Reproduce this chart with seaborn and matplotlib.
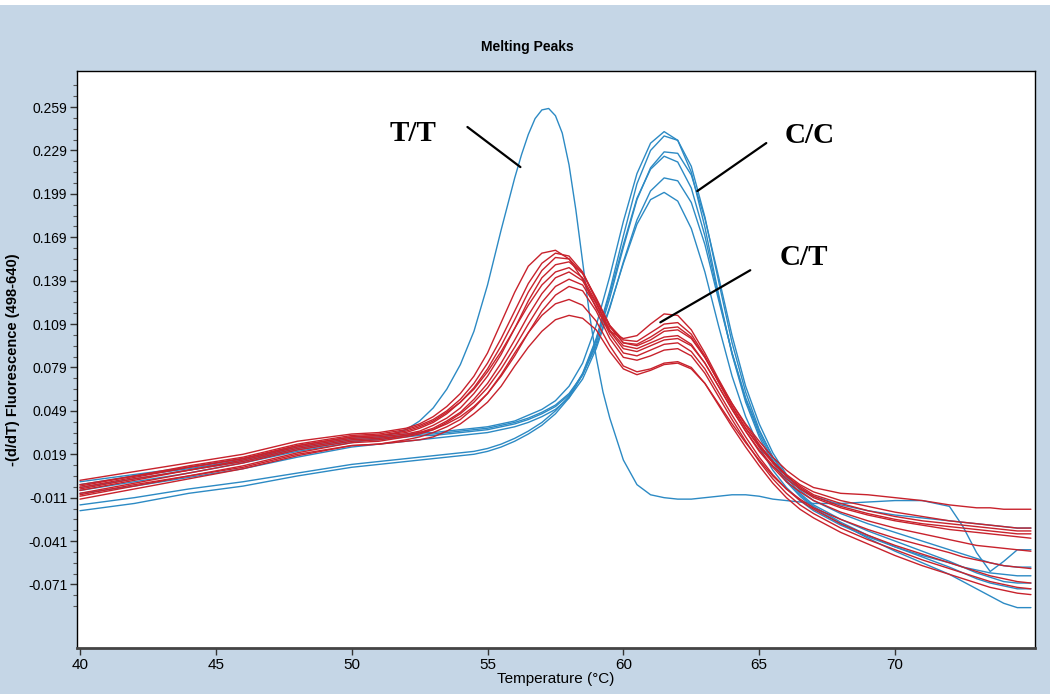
import pandas as pd
import matplotlib
matplotlib.use("Agg")
import matplotlib.pyplot as plt
import matplotlib.ticker as mticker
from matplotlib.patches import Rectangle
import seaborn as sns

# ── DATA ──────────────────────────────────────────────────────────────────────
temperature = [40, 42, 44, 46, 48, 50, 51, 52,
               52.5, 53, 53.5, 54, 54.5, 55, 55.5, 56, 56.5, 57,
               57.5, 58, 58.5, 59, 59.5, 60, 60.5, 61, 61.5, 62,
               62.5, 63, 63.5, 64, 64.5, 65, 65.5, 66, 66.5,
               67, 68, 69, 70, 71, 72, 72.5, 73, 73.5, 74, 74.5, 75]

# T/T homozygote (one sample, sharper peak -> finer temperature steps)
tt_temperature = [40, 42, 44, 46, 48, 50, 51, 52,
                  52.5, 53, 53.5, 54, 54.5, 55, 55.5, 55.75, 56, 56.25, 56.5, 56.75,
                  57, 57.25, 57.5, 57.75, 58, 58.25, 58.5, 58.75, 59, 59.25, 59.5,
                  60, 60.5, 61, 61.5, 62, 62.5, 63, 63.5, 64, 64.5, 65, 65.5, 66, 66.5,
                  67, 68, 69, 70, 71, 72, 72.5, 73, 73.5, 74, 74.5, 75]
tt_1 = [-0.006, 0.000, 0.006, 0.013, 0.021, 0.027, 0.030, 0.036,
        0.042, 0.051, 0.064, 0.081, 0.104, 0.136, 0.174, 0.192, 0.210, 0.226, 0.240, 0.251,
        0.257, 0.258, 0.253, 0.241, 0.219, 0.188, 0.152, 0.116, 0.086, 0.062, 0.044,
        0.015, -0.002, -0.009, -0.011, -0.012, -0.012, -0.011, -0.010, -0.009, -0.009, -0.010, -0.012, -0.013, -0.014,
        -0.015, -0.015, -0.014, -0.013, -0.013, -0.017, -0.031, -0.049, -0.062, -0.055, -0.047, -0.047]

# C/C homozygotes
cc_1 = [0.000, 0.005, 0.010, 0.016, 0.024, 0.030, 0.031, 0.033,
        0.034, 0.034, 0.035, 0.036, 0.037, 0.038, 0.040, 0.042, 0.046, 0.050,
        0.056, 0.066, 0.082, 0.108, 0.142, 0.180, 0.213, 0.234, 0.242, 0.236,
        0.214, 0.176, 0.130, 0.088, 0.055, 0.031, 0.013, 0.000, -0.010,
        -0.018, -0.029, -0.039, -0.048, -0.056, -0.064, -0.069, -0.074, -0.079, -0.084, -0.087, -0.087]
cc_2 = [-0.016, -0.011, -0.005, 0.000, 0.006, 0.012, 0.014, 0.016,
        0.017, 0.018, 0.019, 0.020, 0.021, 0.023, 0.026, 0.030, 0.035, 0.041,
        0.049, 0.059, 0.075, 0.099, 0.132, 0.170, 0.206, 0.229, 0.239, 0.236,
        0.218, 0.183, 0.139, 0.096, 0.062, 0.036, 0.017, 0.003, -0.008,
        -0.016, -0.026, -0.034, -0.041, -0.048, -0.055, -0.059, -0.063, -0.066, -0.069, -0.070, -0.070]
cc_3 = [-0.004, 0.002, 0.008, 0.014, 0.022, 0.028, 0.029, 0.031,
        0.032, 0.032, 0.033, 0.034, 0.035, 0.036, 0.038, 0.040, 0.043, 0.047,
        0.052, 0.060, 0.074, 0.096, 0.127, 0.162, 0.195, 0.217, 0.228, 0.227,
        0.212, 0.182, 0.142, 0.101, 0.066, 0.040, 0.020, 0.005, -0.006,
        -0.013, -0.022, -0.029, -0.035, -0.041, -0.047, -0.050, -0.053, -0.056, -0.058, -0.059, -0.059]
cc_4 = [-0.020, -0.015, -0.008, -0.003, 0.004, 0.010, 0.012, 0.014,
        0.015, 0.016, 0.017, 0.018, 0.019, 0.021, 0.024, 0.028, 0.033, 0.039,
        0.047, 0.058, 0.074, 0.098, 0.130, 0.164, 0.196, 0.216, 0.225, 0.221,
        0.203, 0.170, 0.128, 0.089, 0.057, 0.033, 0.015, 0.001, -0.009,
        -0.017, -0.028, -0.037, -0.045, -0.052, -0.059, -0.063, -0.067, -0.070, -0.072, -0.074, -0.074]
cc_5 = [-0.008, -0.003, 0.003, 0.009, 0.017, 0.024, 0.026, 0.028,
        0.029, 0.030, 0.031, 0.032, 0.033, 0.034, 0.036, 0.038, 0.041, 0.045,
        0.050, 0.058, 0.071, 0.092, 0.120, 0.152, 0.181, 0.201, 0.210, 0.208,
        0.193, 0.164, 0.126, 0.089, 0.058, 0.035, 0.017, 0.004, -0.005,
        -0.010, -0.016, -0.020, -0.023, -0.025, -0.027, -0.028, -0.029, -0.030, -0.031, -0.032, -0.032]
cc_6 = [-0.002, 0.004, 0.009, 0.015, 0.023, 0.029, 0.030, 0.032,
        0.033, 0.033, 0.034, 0.035, 0.036, 0.037, 0.039, 0.041, 0.044, 0.048,
        0.053, 0.061, 0.074, 0.094, 0.121, 0.151, 0.178, 0.195, 0.200, 0.194,
        0.175, 0.145, 0.108, 0.073, 0.045, 0.024, 0.008, -0.004, -0.013,
        -0.020, -0.030, -0.038, -0.045, -0.051, -0.056, -0.059, -0.061, -0.063, -0.064, -0.065, -0.065]

# C/T heterozygotes
ct_1 = [0.001, 0.007, 0.013, 0.019, 0.028, 0.033, 0.034, 0.037,
        0.040, 0.045, 0.052, 0.061, 0.073, 0.089, 0.110, 0.131, 0.149, 0.158,
        0.160, 0.154, 0.140, 0.120, 0.104, 0.099, 0.101, 0.109, 0.116, 0.115,
        0.105, 0.089, 0.071, 0.054, 0.040, 0.028, 0.017, 0.008, 0.001,
        -0.004, -0.008, -0.009, -0.011, -0.013, -0.016, -0.017, -0.018, -0.018, -0.019, -0.019, -0.019]
ct_2 = [-0.002, 0.004, 0.011, 0.017, 0.026, 0.032, 0.033, 0.036,
        0.039, 0.043, 0.049, 0.057, 0.068, 0.082, 0.099, 0.118, 0.137, 0.151,
        0.158, 0.156, 0.145, 0.126, 0.108, 0.098, 0.097, 0.103, 0.109, 0.110,
        0.102, 0.087, 0.069, 0.052, 0.037, 0.025, 0.014, 0.005, -0.002,
        -0.007, -0.013, -0.017, -0.021, -0.024, -0.027, -0.028, -0.029, -0.030, -0.031, -0.032, -0.032]
ct_3 = [-0.004, 0.003, 0.010, 0.016, 0.025, 0.031, 0.032, 0.034,
        0.037, 0.041, 0.047, 0.055, 0.065, 0.078, 0.094, 0.112, 0.131, 0.146,
        0.155, 0.154, 0.144, 0.126, 0.107, 0.096, 0.095, 0.100, 0.106, 0.107,
        0.100, 0.086, 0.069, 0.052, 0.037, 0.024, 0.013, 0.004, -0.003,
        -0.009, -0.015, -0.020, -0.024, -0.027, -0.029, -0.030, -0.031, -0.032, -0.033, -0.034, -0.034]
ct_4 = [-0.006, 0.001, 0.008, 0.015, 0.024, 0.030, 0.031, 0.033,
        0.035, 0.039, 0.044, 0.051, 0.061, 0.073, 0.088, 0.106, 0.125, 0.141,
        0.150, 0.152, 0.144, 0.127, 0.108, 0.096, 0.094, 0.098, 0.104, 0.105,
        0.099, 0.086, 0.070, 0.054, 0.039, 0.026, 0.014, 0.004, -0.004,
        -0.010, -0.017, -0.022, -0.026, -0.029, -0.031, -0.032, -0.033, -0.034, -0.035, -0.036, -0.036]
ct_5 = [-0.003, 0.004, 0.010, 0.016, 0.025, 0.031, 0.032, 0.035,
        0.038, 0.042, 0.048, 0.055, 0.064, 0.076, 0.090, 0.106, 0.122, 0.136,
        0.145, 0.148, 0.141, 0.124, 0.105, 0.094, 0.092, 0.096, 0.100, 0.101,
        0.095, 0.082, 0.066, 0.050, 0.035, 0.022, 0.011, 0.002, -0.005,
        -0.011, -0.018, -0.023, -0.027, -0.030, -0.033, -0.034, -0.035, -0.036, -0.037, -0.038, -0.039]
ct_6 = [-0.008, -0.001, 0.006, 0.013, 0.022, 0.028, 0.029, 0.032,
        0.034, 0.037, 0.042, 0.048, 0.057, 0.068, 0.082, 0.098, 0.115, 0.130,
        0.141, 0.145, 0.139, 0.123, 0.104, 0.092, 0.090, 0.094, 0.098, 0.099,
        0.094, 0.082, 0.066, 0.050, 0.035, 0.021, 0.010, 0.000, -0.007,
        -0.013, -0.021, -0.027, -0.032, -0.036, -0.040, -0.042, -0.044, -0.045, -0.046, -0.047, -0.048]
ct_7 = [-0.010, -0.003, 0.004, 0.011, 0.020, 0.027, 0.028, 0.031,
        0.033, 0.036, 0.041, 0.047, 0.055, 0.065, 0.078, 0.093, 0.109, 0.124,
        0.135, 0.140, 0.136, 0.121, 0.102, 0.089, 0.087, 0.091, 0.095, 0.096,
        0.090, 0.078, 0.062, 0.046, 0.031, 0.017, 0.005, -0.005, -0.013,
        -0.019, -0.029, -0.037, -0.044, -0.050, -0.056, -0.059, -0.062, -0.065, -0.067, -0.069, -0.070]
ct_8 = [-0.005, 0.002, 0.008, 0.014, 0.023, 0.029, 0.030, 0.032,
        0.034, 0.036, 0.040, 0.045, 0.052, 0.061, 0.073, 0.087, 0.103, 0.118,
        0.129, 0.135, 0.132, 0.118, 0.099, 0.086, 0.084, 0.087, 0.091, 0.092,
        0.087, 0.075, 0.059, 0.043, 0.028, 0.014, 0.002, -0.008, -0.016,
        -0.022, -0.032, -0.040, -0.047, -0.054, -0.060, -0.063, -0.066, -0.069, -0.071, -0.073, -0.074]
ct_9 = [-0.012, -0.005, 0.002, 0.009, 0.018, 0.025, 0.026, 0.029,
        0.031, 0.034, 0.038, 0.043, 0.051, 0.061, 0.074, 0.089, 0.103, 0.115,
        0.123, 0.126, 0.122, 0.111, 0.094, 0.080, 0.076, 0.078, 0.082, 0.083,
        0.079, 0.068, 0.053, 0.038, 0.024, 0.011, -0.001, -0.011, -0.019,
        -0.025, -0.035, -0.043, -0.051, -0.058, -0.064, -0.067, -0.070, -0.073, -0.075, -0.077, -0.078]
ct_10 = [-0.009, -0.002, 0.004, 0.010, 0.019, 0.025, 0.026, 0.028,
         0.029, 0.031, 0.035, 0.040, 0.047, 0.055, 0.066, 0.080, 0.093, 0.104,
         0.112, 0.115, 0.113, 0.105, 0.090, 0.078, 0.074, 0.077, 0.081, 0.082,
         0.078, 0.068, 0.054, 0.040, 0.027, 0.015, 0.004, -0.005, -0.012,
         -0.018, -0.026, -0.033, -0.039, -0.044, -0.049, -0.052, -0.054, -0.056, -0.058, -0.059, -0.060]

x_ticks = [40, 45, 50, 55, 60, 65, 70]
y_ticks = [0.259, 0.229, 0.199, 0.169, 0.139, 0.109, 0.079, 0.049, 0.019, -0.011, -0.041, -0.071]
y_tick_labels = ["0.259", "0.229", "0.199", "0.169", "0.139", "0.109", "0.079",
                 "0.049", "0.019", "-0.011", "-0.041", "-0.071"]

# genotype label -> (text position, pointer start, pointer end) in data units
callouts = {
    "T/T": ((52.25, 0.241), (54.26, 0.2452), (56.21, 0.2175)),
    "C/C": ((66.85, 0.239), (65.26, 0.2341), (62.72, 0.2009)),
    "C/T": ((66.65, 0.155), (64.67, 0.1462), (61.36, 0.1102)),
}

# ── SETTINGS ──────────────────────────────────────────────────────────────────
BG    = "#c5d6e6"
BLUE  = "#2c8ac4"
RED   = "#c8222c"

sns.set_theme(style="white")
plt.rcParams["font.family"] = ["Liberation Sans Narrow", "Liberation Sans", "DejaVu Sans"]
plt.rcParams["axes.unicode_minus"] = False
for key in ["text.color", "axes.labelcolor", "xtick.color", "ytick.color"]:
    plt.rcParams[key] = "black"

curves = {
    "tt_1": ("T/T", tt_temperature, tt_1),
    "cc_1": ("C/C", temperature, cc_1), "cc_2": ("C/C", temperature, cc_2),
    "cc_3": ("C/C", temperature, cc_3), "cc_4": ("C/C", temperature, cc_4),
    "cc_5": ("C/C", temperature, cc_5), "cc_6": ("C/C", temperature, cc_6),
    "ct_1": ("C/T", temperature, ct_1), "ct_2": ("C/T", temperature, ct_2),
    "ct_3": ("C/T", temperature, ct_3), "ct_4": ("C/T", temperature, ct_4),
    "ct_5": ("C/T", temperature, ct_5), "ct_6": ("C/T", temperature, ct_6),
    "ct_7": ("C/T", temperature, ct_7), "ct_8": ("C/T", temperature, ct_8),
    "ct_9": ("C/T", temperature, ct_9), "ct_10": ("C/T", temperature, ct_10),
}
rows = []
for name, (geno, temps, vals) in curves.items():
    for t, v in zip(temps, vals):
        rows.append({"sample": name, "genotype": geno, "temp": t, "value": v})
df = pd.DataFrame(rows)

# ── FIGURE ────────────────────────────────────────────────────────────────────
fig = plt.figure(figsize=(10.54, 6.94), dpi=100, facecolor=BG)
# thin white frame strips at the top and right edge of the window
fig.patches.append(Rectangle((0, 1 - 5 / 694), 1, 5 / 694, transform=fig.transFigure,
                             facecolor="white", edgecolor="none", zorder=-1))
fig.patches.append(Rectangle((1 - 4 / 1054, 0), 4 / 1054, 1, transform=fig.transFigure,
                             facecolor="white", edgecolor="none", zorder=-1))

ax = fig.add_axes([77 / 1054, 1 - 648 / 694, (1035 - 77) / 1054, (648 - 71) / 694])
ax.set_facecolor("white")

sns.lineplot(data=df, x="temp", y="value", hue="genotype", units="sample",
             estimator=None, sort=False, hue_order=["T/T", "C/C", "C/T"],
             palette={"T/T": BLUE, "C/C": BLUE, "C/T": RED},
             linewidth=1.0, legend=False, ax=ax)

for label, (txt, p0, p1) in callouts.items():
    ax.plot([p0[0], p1[0]], [p0[1], p1[1]], color="black", lw=1.6)
    ax.text(txt[0], txt[1], label, ha="center", va="center", fontsize=21,
            fontweight="bold", color="black", family=["Liberation Serif", "DejaVu Serif"])

ax.set_xlim(39.89, 75.15)
ax.set_ylim(-0.1149, 0.2839)
ax.set_xticks(x_ticks)
ax.set_yticks(y_ticks, labels=y_tick_labels)
ax.yaxis.set_minor_locator(mticker.FixedLocator(
    [0.259 + 0.0075 * k for k in range(-46, 3)]))
ax.tick_params(axis="both", which="major", direction="out", length=5, width=1,
               color="#333333", labelsize=10, pad=2, left=True, bottom=True)
ax.tick_params(axis="x", which="major", labelsize=11)
ax.tick_params(axis="y", which="minor", direction="out", length=3, width=0.8,
               color="#555555", left=True)

for side in ["left", "right", "top"]:
    ax.spines[side].set_color("black")
    ax.spines[side].set_linewidth(1.0)
ax.spines["bottom"].set_color("#444444")
ax.spines["bottom"].set_linewidth(2.0)

ax.set_xlabel("Temperature (°C)", fontsize=11, labelpad=0)
ax.set_ylabel("-(d/dT) Fluorescence (498-640)", fontsize=10.5, fontweight="bold",
              family=["Liberation Sans", "DejaVu Sans"], labelpad=6)
fig.text(0.5, 1 - 47 / 694, "Melting Peaks", ha="center", va="center",
         fontsize=10, fontweight="bold", family=["Liberation Sans", "DejaVu Sans"])

fig.savefig("out.png", dpi=100, facecolor=BG)
